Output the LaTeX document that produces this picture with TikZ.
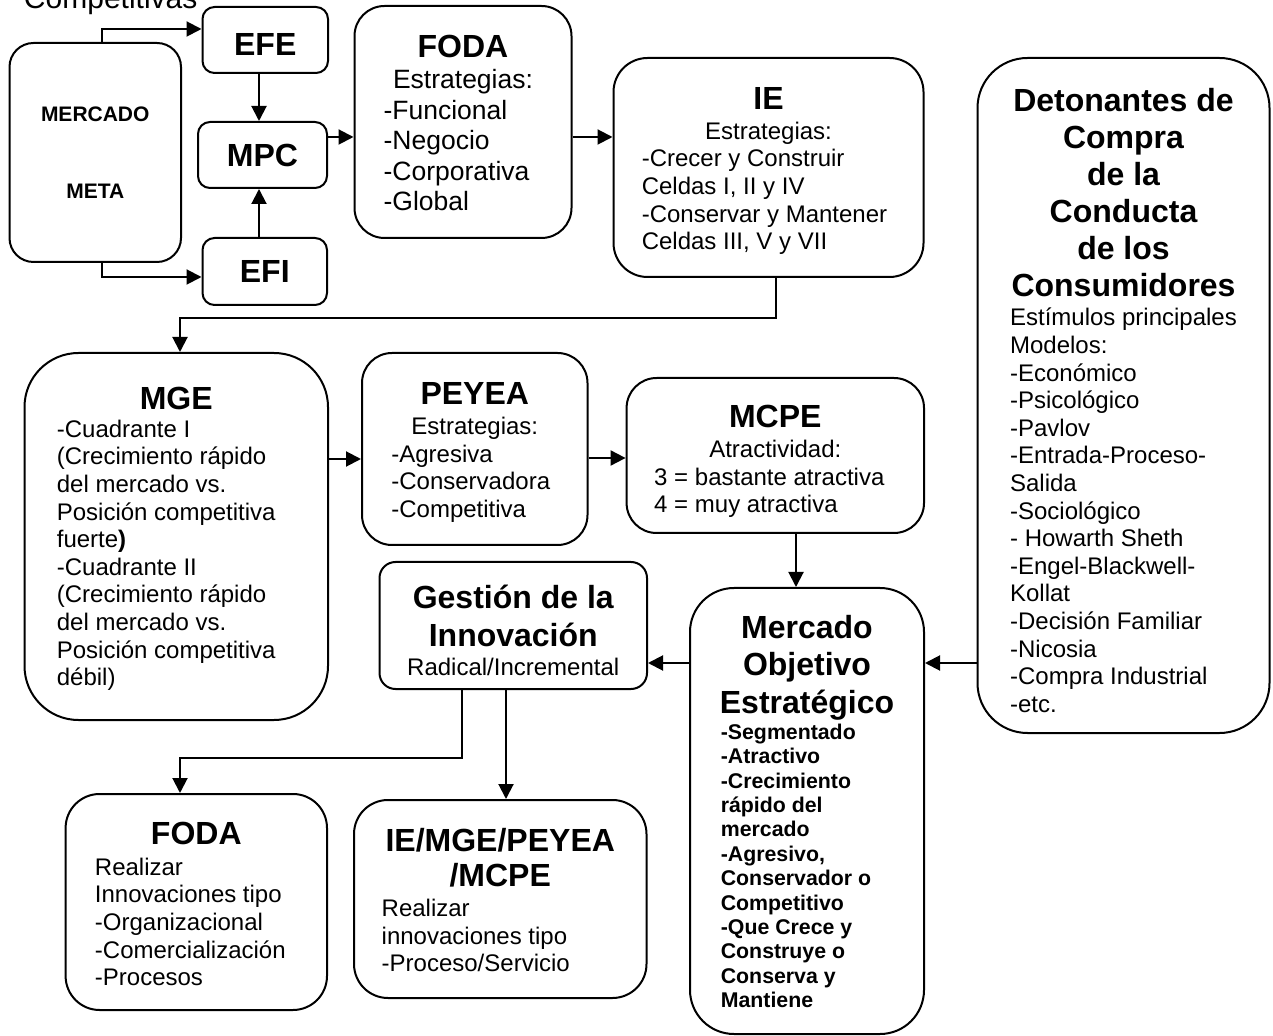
\documentclass[tikz,border=0pt]{standalone}
\usepackage{fontspec}
\setmainfont{Liberation Sans}
\usetikzlibrary{arrows.meta}
\newcommand\ttl[1]{{\fontsize{16}{18.4}\selectfont\bfseries #1}}
\newcommand\tope[1]{\rule{0pt}{#1}}
\newcommand\lista[1]{{\lineskiplimit=0pt\begin{tabular}[t]{@{}l@{}}#1\end{tabular}}}
\newcommand\nl{\tabularnewline}
\newcommand\cuerpo[2]{\fontsize{#1}{#2}\selectfont\lineskiplimit=-100pt\relax}

\begin{document}
\begin{tikzpicture}[x=0.5pt, y=-0.5pt, line width=1pt,
    box/.style={draw, align=center, inner sep=0pt, font=\cuerpo{12}{13.8}},
    arr/.style={-{Triangle[length=7.5pt,width=7.5pt]}}]
    \useasboundingbox (0,0) rectangle (1273,1036);

    \node[anchor=base west, inner sep=0pt, font=\fontsize{15}{18}\selectfont] (comp) at (23,9) {Competitivas};

    \node[box, rounded corners=12pt, minimum width=85.75pt, minimum height=109.5pt,
      font=\cuerpo{10.5}{12.1}\bfseries] (meta) at (95.25,152.5) {MERCADO\\[26.4pt]META};
    \node[box, rounded corners=6pt, minimum width=62.75pt, minimum height=33pt] (efe) at (265.25,40) {\tope{15.7pt}\ttl{EFE}};
    \node[box, rounded corners=6pt, minimum width=64.5pt, minimum height=33pt] (mpc) at (262.5,155) {\ttl{MPC}};
    \node[box, rounded corners=6pt, minimum width=62.25pt, minimum height=33.5pt] (efi) at (264.75,271.5) {\ttl{EFI}};

    \node[box, rounded corners=15pt, minimum width=108.5pt, minimum height=116pt,
      font=\cuerpo{13.25}{15.24}] (foda) at (463,122)
      {\tope{16.7pt}\ttl{FODA}\\[0.3pt]Estrategias:\\ \hspace*{-6.5pt}\lista{-Funcional\nl-Negocio\nl-Corporativa\nl-Global}};
    \node[box, rounded corners=17pt, minimum width=155pt, minimum height=109.5pt] (ie) at (768.5,167.5)
      {\tope{16.2pt}\ttl{IE}\\[1.2pt]Estrategias:\\ \hspace*{-4pt}\lista{-Crecer y Construir\nl Celdas I, II y IV\nl-Conservar y Mantener\nl Celdas III, V y VII}};
    \node[box, rounded corners=25pt, minimum width=146pt, minimum height=337.5pt] (det) at (1123.5,395.5)
      {\tope{20.7pt}\ttl{Detonantes de}\\[4.7pt]\ttl{Compra}\\[4.7pt]\ttl{de la}\\[4.7pt]\ttl{Conducta}\\[4.7pt]\ttl{de los}\\[4.7pt]\ttl{Consumidores}\\[0.7pt]
       \lista{Estímulos principales\nl Modelos:\nl-Económico\nl-Psicológico\nl-Pavlov\nl-Entrada-Proceso-\nl Salida\nl-Sociológico\nl- Howarth Sheth\nl-Engel-Blackwell-\nl Kollat\nl-Decisión Familiar\nl-Nicosia\nl-Compra Industrial\nl-etc.}};

    \node[box, rounded corners=27pt, minimum width=151.75pt, minimum height=183.5pt] (mge) at (176.25,536.5)
      {\tope{15.2pt}\ttl{MGE}\\[0.2pt]\hspace*{-10pt}\lista{-Cuadrante I\nl(Crecimiento rápido\nl del mercado vs.\nl Posición competitiva\nl fuerte\textbf{)}\nl-Cuadrante II\nl(Crecimiento rápido\nl del mercado vs.\nl Posición competitiva\nl débil)}};
    \node[box, rounded corners=15pt, minimum width=112.75pt, minimum height=96pt] (peyea) at (474.75,449)
      {\tope{16.2pt}\ttl{PEYEA}\\[1.2pt]Estrategias:\\ \hspace*{-4pt}\lista{-Agresiva\nl-Conservadora\nl-Competitiva}};
    \node[box, rounded corners=15pt, minimum width=148.7pt, minimum height=77.5pt] (mcpe) at (775.3,455.5)
      {\tope{18.7pt}\ttl{MCPE}\\[1.2pt]Atractividad:\\ \hspace*{-6pt}\lista{3 = bastante atractiva\nl 4 = muy atractiva}};
    \node[box, rounded corners=8pt, minimum width=133.75pt, minimum height=63.5pt] (gest) at (513.25,625.5)
      {\tope{16.2pt}\ttl{Gestión de la}\\[5.2pt]\ttl{Innovación}\\[0.7pt]Radical/Incremental};
    \node[box, rounded corners=22pt, minimum width=117pt, minimum height=223pt] (obj) at (807,811)
      {\tope{15.7pt}\ttl{Mercado}\\[4.9pt]\ttl{Objetivo}\\[4.9pt]\ttl{Estratégico}\\[-0.8pt]
       \hspace*{-11pt}{\fontsize{10.65}{12.2}\selectfont\bfseries\lista{-Segmentado\nl-Atractivo\nl-Crecimiento\nl rápido del\nl mercado\nl-Agresivo,\nl Conservador o\nl Competitivo\nl-Que Crece y\nl Construye o\nl Conserva y\nl Mantiene}}};
    \node[box, rounded corners=17pt, minimum width=130.7pt, minimum height=108pt] (foda2) at (196.3,902)
      {\tope{17.2pt}\ttl{FODA}\\[1.7pt]\hspace*{-6pt}\lista{Realizar\nl Innovaciones tipo\nl-Organizacional\nl-Comercialización\nl-Procesos}};
    \node[box, rounded corners=17pt, minimum width=146.25pt, minimum height=99pt] (iemge) at (500.25,899)
      {\tope{16.7pt}\ttl{IE/MGE/PEYEA}\\[3.7pt]\ttl{/MCPE}\\[1.2pt]\hspace*{-24.5pt}\lista{Realizar\nl innovaciones tipo\nl-Proceso/Servicio}};

    \draw[arr] (meta.north -| 102,0) |- (efe.west |- 0,29);
    \draw[arr] (meta.south -| 102,0) |- (efi.west |- 0,277);
    \draw[arr] (efe.south -| 259,0) -- (mpc.north -| 259,0);
    \draw[arr] (efi.north -| 259,0) -- (mpc.south -| 259,0);
    \draw[arr] (mpc.east |- 0,137) -- (foda.west |- 0,137);
    \draw[arr] (foda.east |- 0,137) -- (ie.west |- 0,137);
    \draw[arr] (ie.south -| 776,0) -- (776,318) -| (mge.north -| 180,0);
    \draw[arr] (mge.east |- 0,459) -- (peyea.west |- 0,459);
    \draw[arr] (peyea.east |- 0,458) -- (mcpe.west |- 0,458);
    \draw[arr] (mcpe.south -| 796,0) -- (obj.north -| 796,0);
    \draw[arr] (obj.west |- 0,663) -- (gest.east |- 0,663);
    \draw[arr] (det.west |- 0,663) -- (obj.east |- 0,663);
    \draw[arr] (gest.south -| 462,0) -- (462,758) -| (foda2.north -| 180,0);
    \draw[arr] (gest.south -| 506,0) -- (iemge.north -| 506,0);
\end{tikzpicture}
\end{document}
